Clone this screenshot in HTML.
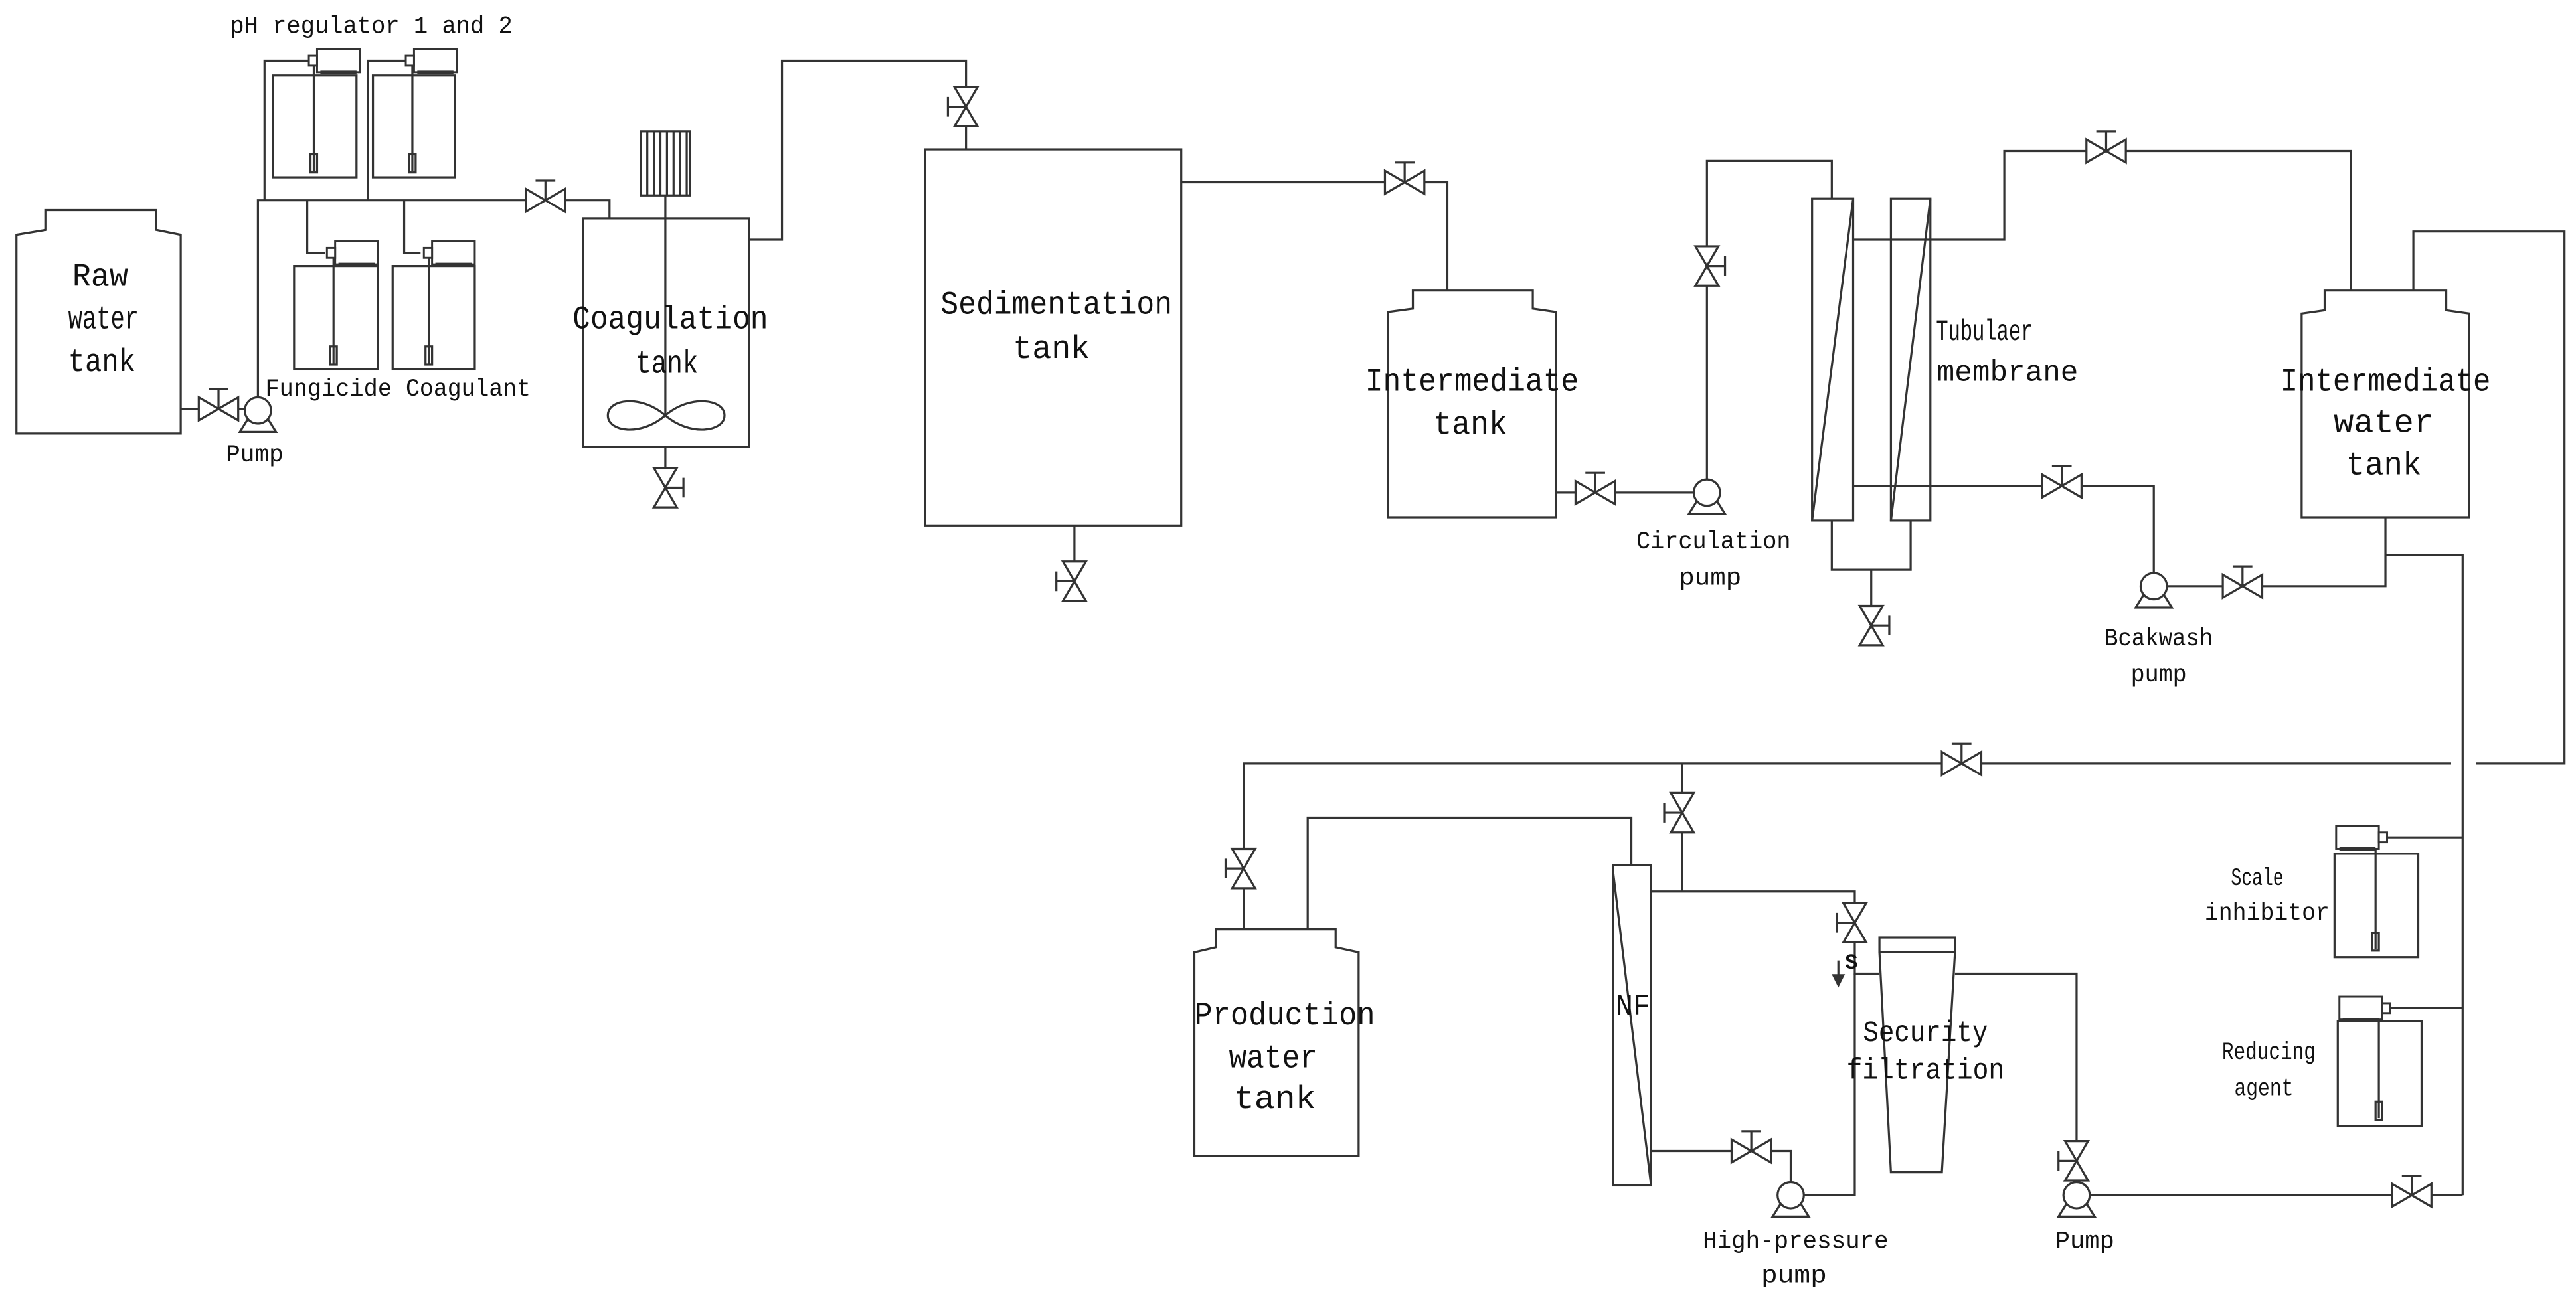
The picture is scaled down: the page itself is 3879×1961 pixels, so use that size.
<!DOCTYPE html>
<html><head><meta charset="utf-8"><style>
html,body{margin:0;padding:0;background:#fff;}
svg{display:block;}
text{font-family:"Liberation Mono","DejaVu Sans Mono",monospace;fill:#111;}
</style></head><body>
<svg width="3879" height="1961" viewBox="0 0 1568 793" preserveAspectRatio="none" xmlns="http://www.w3.org/2000/svg">
<defs>
<g id="vh" fill="#fff" stroke="#333" stroke-width="1.3"><path d="M-12,-7 L-12,7 L12,-7 L12,7 Z"/><path d="M0,0 V-12 M-6,-12 H6" fill="none"/></g>
<g id="vr" fill="#fff" stroke="#333" stroke-width="1.3"><path d="M-7,-12 L7,-12 L-7,12 L7,12 Z"/><path d="M0,0 H11 M11,-6 V6" fill="none"/></g>
<g id="vl" fill="#fff" stroke="#333" stroke-width="1.3"><path d="M-7,-12 L7,-12 L-7,12 L7,12 Z"/><path d="M0,0 H-11 M-11,-6 V6" fill="none"/></g>
<g id="pump" fill="#fff" stroke="#333" stroke-width="1.3"><path d="M-6,5 L6,5 L11,13 L-11,13 Z"/><circle r="8"/></g>
<g id="doser" fill="#fff" stroke="#333" stroke-width="1.2"><rect x="0" y="0" width="26" height="14"/><rect x="-5" y="4" width="5" height="6"/><path d="M2,14 H24" stroke-width="2"/></g>
</defs>
<g fill="none" stroke="#333" stroke-width="1.3">
<path d="M10,143 L28,140 L28,128 L95,128 L95,140 L110,143 L110,264 L10,264 Z"/>
<path d="M110,249 H157 M157,250 V122 H371 V133"/>
<rect x="166" y="46" width="51" height="62"/><path d="M161,122 V37 H188 M191,39 V104"/><rect x="189" y="94" width="4" height="11"/>
<rect x="227" y="46" width="50" height="62"/><path d="M224,122 V37 H248 M251,39 V104"/><rect x="249" y="94" width="4" height="11"/>
<rect x="179" y="162" width="51" height="63"/><path d="M187,122 V154 H198 M203,156 V222"/><rect x="201" y="211" width="4" height="11"/>
<rect x="239" y="162" width="50" height="63"/><path d="M246,122 V154 H256 M261,156 V222"/><rect x="259" y="211" width="4" height="11"/>
<rect x="355" y="133" width="101" height="139"/>
<rect x="390" y="80" width="30" height="39"/>
<path d="M394,80 V119 M398,80 V119 M402,80 V119 M406,80 V119 M410,80 V119 M414,80 V119 M418,80 V119"/>
<path d="M405,119 V253"/>
<path d="M405,253 C390,240 370,243 370,253 C370,263 390,266 405,253 C420,240 441,243 441,253 C441,263 420,266 405,253 Z"/>
<path d="M405,272 V309"/>
<path d="M456,146 H476 V37 H588 V91"/>
<rect x="563" y="91" width="156" height="229"/>
<path d="M719,111 H881 V177"/>
<path d="M654,320 V366"/>
<path d="M845,190 L860,188 L860,177 L933,177 L933,188 L947,190 L947,315 L845,315 Z"/>
<path d="M947,300 H1039 M1039,300 V98 H1115 V121"/>
<rect x="1103" y="121" width="25" height="196"/><path d="M1128,121 L1103,317"/>
<rect x="1151" y="121" width="24" height="196"/><path d="M1175,121 L1151,317"/>
<path d="M1128,146 H1220 V92 H1431 V177"/>
<path d="M1128,296 H1311 V357"/>
<path d="M1115,317 V347 H1163 V317 M1139,347 V392"/>
<path d="M1311,357 H1452 V315 M1452,338 H1499 V728"/>
<path d="M1401,191 L1415,189 L1415,177 L1489,177 L1489,189 L1503,191 L1503,315 L1401,315 Z"/>
<path d="M1469,177 V141 H1561 V465 H1507 M1492,465 H757 V566"/>
<path d="M727,580 L740,577 L740,566 L813,566 L813,577 L827,580 L827,704 L727,704 Z"/>
<path d="M796,566 V498 H993 V527"/>
<rect x="982" y="527" width="23" height="195"/><path d="M982,532 L1005,722"/>
<path d="M1024,465 V543 M1005,543 H1129 V593 H1144"/>
<path d="M1129,593 V728 H1091"/>
<path d="M1005,701 H1090 V728"/>
<rect x="1144" y="571" width="46" height="9"/>
<path d="M1144,580 L1151,714 H1182 L1190,580"/>
<path d="M1190,593 H1264 V728"/>
<path d="M1264,728 H1499"/>
<rect x="1421" y="520" width="51" height="63"/><path d="M1449,510 H1499 M1446,512 V578"/><rect x="1444" y="568" width="4" height="11"/>
<rect x="1423" y="622" width="51" height="64"/><path d="M1451,614 H1499 M1448,616 V681"/><rect x="1446" y="671" width="4" height="11"/>
<path d="M1119,585 V598" /><path d="M1116,594 L1119,600 L1122,594 Z" fill="#333"/>
</g>
<text x="1123" y="590" font-size="13" font-weight="bold">S</text>
<use href="#doser" x="193" y="30"/>
<use href="#doser" x="252" y="30"/>
<use href="#doser" x="204" y="147"/>
<use href="#doser" x="263" y="147"/>
<g transform="translate(1448,503) scale(-1,1)"><use href="#doser" x="0" y="0"/></g>
<g transform="translate(1450,607) scale(-1,1)"><use href="#doser" x="0" y="0"/></g>
<use href="#vh" x="133" y="249"/>
<use href="#vh" x="332" y="122"/>
<use href="#vr" x="405" y="297"/>
<use href="#vl" x="588" y="65"/>
<use href="#vh" x="855" y="111"/>
<use href="#vl" x="654" y="354"/>
<use href="#vh" x="971" y="300"/>
<use href="#vr" x="1039" y="162"/>
<use href="#vh" x="1282" y="92"/>
<use href="#vh" x="1255" y="296"/>
<use href="#vr" x="1139" y="381"/>
<use href="#vh" x="1365" y="357"/>
<use href="#vh" x="1194" y="465"/>
<use href="#vl" x="757" y="529"/>
<use href="#vl" x="1024" y="495"/>
<use href="#vl" x="1129" y="562"/>
<use href="#vh" x="1066" y="701"/>
<use href="#vl" x="1264" y="707"/>
<use href="#vh" x="1468" y="728"/>
<use href="#pump" x="157" y="250"/>
<use href="#pump" x="1039" y="300"/>
<use href="#pump" x="1311" y="357"/>
<use href="#pump" x="1090" y="728"/>
<use href="#pump" x="1264" y="728"/>
<g text-anchor="middle" lengthAdjust="spacingAndGlyphs">
<text x="226" y="20" font-size="15" textLength="172" lengthAdjust="spacingAndGlyphs">pH regulator 1 and 2</text>
<text x="61" y="174" font-size="20" textLength="34" lengthAdjust="spacingAndGlyphs">Raw</text>
<text x="63" y="200" font-size="20" textLength="43" lengthAdjust="spacingAndGlyphs">water</text>
<text x="62" y="226" font-size="20" textLength="41" lengthAdjust="spacingAndGlyphs">tank</text>
<text x="200" y="241" font-size="15" textLength="77" lengthAdjust="spacingAndGlyphs">Fungicide</text>
<text x="285" y="241" font-size="15" textLength="76" lengthAdjust="spacingAndGlyphs">Coagulant</text>
<text x="155" y="281" font-size="15" textLength="35" lengthAdjust="spacingAndGlyphs">Pump</text>
<text x="408" y="200" font-size="20" textLength="119" lengthAdjust="spacingAndGlyphs">Coagulation</text>
<text x="406" y="227" font-size="20" textLength="38" lengthAdjust="spacingAndGlyphs">tank</text>
<text x="643" y="191" font-size="20" textLength="141" lengthAdjust="spacingAndGlyphs">Sedimentation</text>
<text x="640" y="218" font-size="20" textLength="47" lengthAdjust="spacingAndGlyphs">tank</text>
<text x="896" y="238" font-size="20" textLength="130" lengthAdjust="spacingAndGlyphs">Intermediate</text>
<text x="895" y="264" font-size="20" textLength="45" lengthAdjust="spacingAndGlyphs">tank</text>
<text x="1043" y="334" font-size="15" textLength="94" lengthAdjust="spacingAndGlyphs">Circulation</text>
<text x="1041" y="356" font-size="15" textLength="38" lengthAdjust="spacingAndGlyphs">pump</text>
<text x="1208" y="207" font-size="18" textLength="59" lengthAdjust="spacingAndGlyphs">Tubulaer</text>
<text x="1222" y="232" font-size="18" textLength="86" lengthAdjust="spacingAndGlyphs">membrane</text>
<text x="1452" y="238" font-size="20" textLength="128" lengthAdjust="spacingAndGlyphs">Intermediate</text>
<text x="1451" y="263" font-size="20" textLength="61" lengthAdjust="spacingAndGlyphs">water</text>
<text x="1451" y="289" font-size="20" textLength="46" lengthAdjust="spacingAndGlyphs">tank</text>
<text x="1314" y="393" font-size="15" textLength="66" lengthAdjust="spacingAndGlyphs">Bcakwash</text>
<text x="1314" y="415" font-size="15" textLength="34" lengthAdjust="spacingAndGlyphs">pump</text>
<text x="782" y="624" font-size="20" textLength="110" lengthAdjust="spacingAndGlyphs">Production</text>
<text x="775" y="650" font-size="20" textLength="54" lengthAdjust="spacingAndGlyphs">water</text>
<text x="776" y="675" font-size="20" textLength="50" lengthAdjust="spacingAndGlyphs">tank</text>
<text x="994" y="618" font-size="18" textLength="21" lengthAdjust="spacingAndGlyphs">NF</text>
<text x="1172" y="634" font-size="18" textLength="76" lengthAdjust="spacingAndGlyphs">Security</text>
<text x="1172" y="657" font-size="18" textLength="96" lengthAdjust="spacingAndGlyphs">filtration</text>
<text x="1093" y="760" font-size="15" textLength="113" lengthAdjust="spacingAndGlyphs">High-pressure</text>
<text x="1092" y="781" font-size="15" textLength="40" lengthAdjust="spacingAndGlyphs">pump</text>
<text x="1269" y="760" font-size="15" textLength="36" lengthAdjust="spacingAndGlyphs">Pump</text>
<text x="1374" y="539" font-size="15" textLength="32" lengthAdjust="spacingAndGlyphs">Scale</text>
<text x="1380" y="560" font-size="15" textLength="76" lengthAdjust="spacingAndGlyphs">inhibitor</text>
<text x="1381" y="645" font-size="15" textLength="57" lengthAdjust="spacingAndGlyphs">Reducing</text>
<text x="1378" y="667" font-size="15" textLength="36" lengthAdjust="spacingAndGlyphs">agent</text>
</g>
</svg>
</body></html>
